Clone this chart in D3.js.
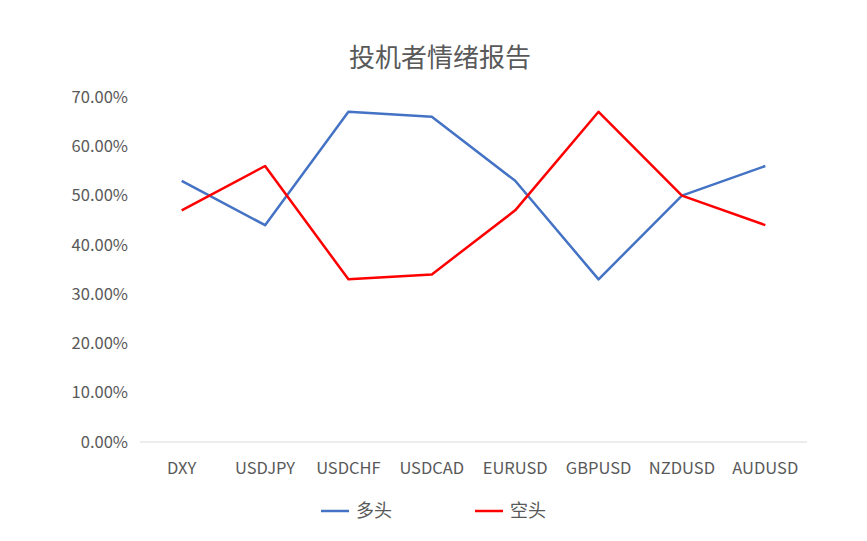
<!DOCTYPE html>
<html lang="zh">
<head>
    <meta charset="UTF-8">
    <title>投机者情绪报告</title>
    <script src="https://d3js.org/d3.v7.min.js"></script>
    <style>
        body { margin: 0; background: #fff; }
        svg text { font-family: "Noto Sans CJK SC", "DejaVu Sans", sans-serif; fill: #595959; }
    </style>
</head>
<body>
<svg width="867" height="541"></svg>
<script>
    // chart data
    const categories = ["DXY", "USDJPY", "USDCHF", "USDCAD", "EURUSD", "GBPUSD", "NZDUSD", "AUDUSD"];
    const longValues = [0.53, 0.44, 0.67, 0.66, 0.53, 0.33, 0.50, 0.56];
    const shortValues = [0.47, 0.56, 0.33, 0.34, 0.47, 0.67, 0.50, 0.44];
    const seriesNames = ["多头", "空头"];
    const seriesColors = ["#4472C4", "#FF0000"];
    const yTicks = [0, 0.1, 0.2, 0.3, 0.4, 0.5, 0.6, 0.7];

    const svg = d3.select("svg");
    const plotLeft = 140, plotRight = 807, plotTop = 97, plotBottom = 442;

    const x = d3.scalePoint().domain(categories).range([plotLeft, plotRight]).padding(0.5);
    const y = d3.scaleLinear().domain([0, 0.7]).range([plotBottom, plotTop]);

    // title
    svg.append("text")
        .attr("x", 440).attr("y", 67)
        .attr("text-anchor", "middle")
        .style("font-size", "26px")
        .text("投机者情绪报告");

    // y axis labels
    svg.append("g").selectAll("text")
        .data(yTicks).enter().append("text")
        .attr("x", 128).attr("y", d => y(d))
        .attr("dy", "0.35em")
        .attr("text-anchor", "end")
        .style("font-size", "16.5px")
        .text(d => d3.format(".2%")(d));

    // baseline
    svg.append("line")
        .attr("x1", plotLeft).attr("x2", plotRight)
        .attr("y1", y(0)).attr("y2", y(0))
        .attr("stroke", "#D9D9D9").attr("stroke-width", 1);

    // x labels
    svg.append("g").selectAll("text")
        .data(categories).enter().append("text")
        .attr("x", d => x(d)).attr("y", 474)
        .attr("text-anchor", "middle")
        .style("font-size", "16.5px")
        .text(d => d);

    const line = d3.line()
        .x((d, i) => x(categories[i]))
        .y(d => y(d));

    [longValues, shortValues].forEach(function (vals, i) {
        svg.append("path")
            .datum(vals)
            .attr("d", line)
            .attr("fill", "none")
            .attr("stroke", seriesColors[i])
            .attr("stroke-width", 2.5)
            .attr("stroke-linejoin", "round");
    });

    // legend
    const legendX = [321, 475];
    seriesNames.forEach(function (name, i) {
        const g = svg.append("g").attr("transform", "translate(" + legendX[i] + ",511)");
        g.append("line")
            .attr("x1", 0).attr("x2", 28)
            .attr("stroke", seriesColors[i]).attr("stroke-width", 2.5);
        g.append("text")
            .attr("x", 35).attr("dy", "0.36em")
            .style("font-size", "18px")
            .text(name);
    });
</script>
</body>
</html>
